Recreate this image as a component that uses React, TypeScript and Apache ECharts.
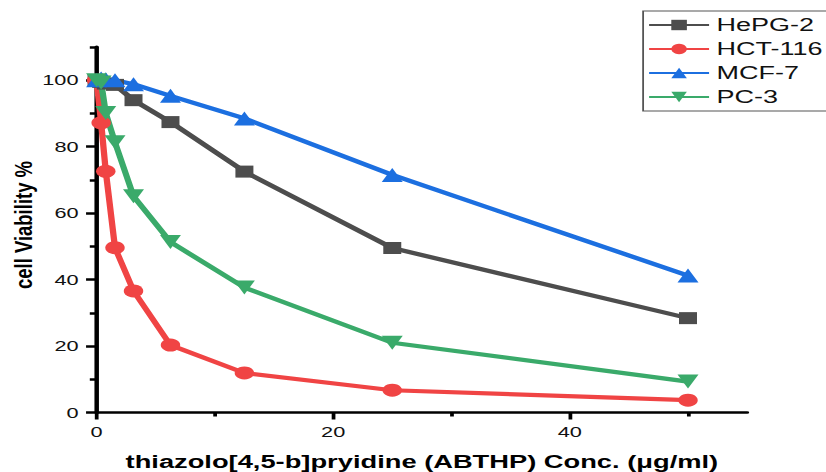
import React, { useEffect, useRef } from "react";
import * as echarts from "echarts";

// Concentrations (µg/ml) and cell viability (%) per cell line
const concentrations = [0, 0.39, 0.78, 1.56, 3.125, 6.25, 12.5, 25, 50];
const hepg2 = [100, 99.5, 99, 98.6, 94, 87.4, 72.5, 49.5, 28.4];
const hct116 = [100, 87.2, 72.6, 49.6, 36.6, 20.3, 11.9, 6.7, 3.7];
const mcf7 = [100, 100.5, 100.3, 100, 98.8, 95.3, 88.5, 71.5, 41.2];
const pc3 = [100, 99.3, 90.1, 81.3, 65.1, 51.3, 37.6, 21, 9.3];

const seriesNames = ["HePG-2", "HCT-116", "MCF-7", "PC-3"];
const xTicks = [0, 20, 40];
const xMinorTicks = [10, 30, 50];
const yTicks = [0, 20, 40, 60, 80, 100];
const yMinorTicks = [10, 30, 50, 70, 90, 110];

const xTitle = "thiazolo[4,5-b]pryidine (ABTHP) Conc. (μg/ml)";
const yTitle = "cell Viability %";

const FONT = '"Liberation Sans", Arial, Helvetica, sans-serif';
const INNER_W = 551;
const H = 472;
const STRETCH = 826 / INNER_W;

export default function App() {
  const ref = useRef<HTMLDivElement>(null);

  useEffect(() => {
    if (!ref.current) return;
    const chart = echarts.init(ref.current, undefined, {
      renderer: "svg",
      width: INNER_W,
      height: H,
    });

    const mk = (
      name: string,
      values: number[],
      color: string,
      symbol: string,
      size: number,
      rotate = 0
    ) => ({
      type: "line",
      name,
      xAxisIndex: 0,
      yAxisIndex: 0,
      data: concentrations.map((x, i) => [x, values[i]]),
      symbol,
      symbolSize: size,
      symbolRotate: rotate,
      showSymbol: true,
      lineStyle: { color, width: 4.2 },
      itemStyle: { color },
      emphasis: { disabled: true },
    });

    const tickStyle = { color: "#000", width: 2.5 };

    chart.setOption({
      animation: false,
      backgroundColor: "#fff",
      grid: {
        left: 64.4,
        right: 52.6,
        top: 47,
        bottom: 59.5,
        containLabel: false,
        outerBoundsMode: "none",
      },
      legend: {
        orient: "vertical",
        left: 429,
        top: 11,
        padding: [5, 6, 5, 3],
        itemWidth: 40,
        itemHeight: 13,
        itemGap: 6,
        borderColor: "#555",
        borderWidth: 1.2,
        textStyle: { fontSize: 18, color: "#111", fontFamily: FONT, lineHeight: 17 },
        data: seriesNames,
      },
      xAxis: [
        {
          type: "value",
          min: 0,
          max: 55,
          interval: 20,
          position: "bottom",
          name: xTitle,
          nameLocation: "middle",
          nameGap: 40,
          nameTextStyle: { fontSize: 18.2, fontWeight: "bold", color: "#000", fontFamily: FONT },
          axisLine: { show: true, lineStyle: { color: "#000", width: 2.7 } },
          axisTick: { show: true, length: 7, lineStyle: tickStyle, customValues: xTicks },
          axisLabel: {
            fontSize: 14.5,
            color: "#111",
            fontFamily: FONT,
            margin: 12,
            customValues: xTicks,
          },
          splitLine: { show: false },
        },
        {
          type: "value",
          min: 0,
          max: 55,
          interval: 10,
          position: "bottom",
          axisLine: { show: false },
          axisTick: { show: true, length: 4, lineStyle: tickStyle, customValues: xMinorTicks },
          axisLabel: { show: false },
          splitLine: { show: false },
        },
      ],
      yAxis: [
        {
          type: "value",
          min: 0,
          max: 110,
          interval: 20,
          position: "left",
          axisLine: { show: true, lineStyle: { color: "#000", width: 3 } },
          axisTick: { show: true, length: 7, lineStyle: tickStyle, customValues: yTicks },
          axisLabel: {
            fontSize: 14.5,
            color: "#111",
            fontFamily: FONT,
            margin: 12,
            customValues: yTicks,
          },
          splitLine: { show: false },
        },
        {
          type: "value",
          min: 0,
          max: 110,
          interval: 10,
          position: "left",
          axisLine: { show: false },
          axisTick: { show: true, length: 4.5, lineStyle: tickStyle, customValues: yMinorTicks },
          axisLabel: { show: false },
          splitLine: { show: false },
        },
      ],
      graphic: [
        {
          type: "text",
          x: 15.7,
          y: 225,
          rotation: Math.PI / 2,
          scaleY: 0.85,
          style: {
            text: yTitle,
            fontSize: 18.5,
            fontWeight: "bold",
            fontFamily: FONT,
            fill: "#000",
            align: "center",
            verticalAlign: "middle",
          },
        },
      ],
      series: [
        mk(seriesNames[0], hepg2, "#4D4D4D", "rect", 12),
        mk(seriesNames[1], hct116, "#F04444", "circle", 13),
        mk(seriesNames[2], mcf7, "#1C6FE0", "triangle", 14),
        mk(seriesNames[3], pc3, "#3AAA6A", "triangle", 14, 180),
      ],
    });

    return () => chart.dispose();
  }, []);

  return (
    <div
      style={{
        position: "fixed",
        left: 0,
        top: 0,
        width: 826,
        height: H,
        overflow: "hidden",
        background: "#fff",
      }}
    >
      <div
        ref={ref}
        style={{
          width: INNER_W,
          height: H,
          transform: `scaleX(${STRETCH})`,
          transformOrigin: "0 0",
        }}
      />
    </div>
  );
}
